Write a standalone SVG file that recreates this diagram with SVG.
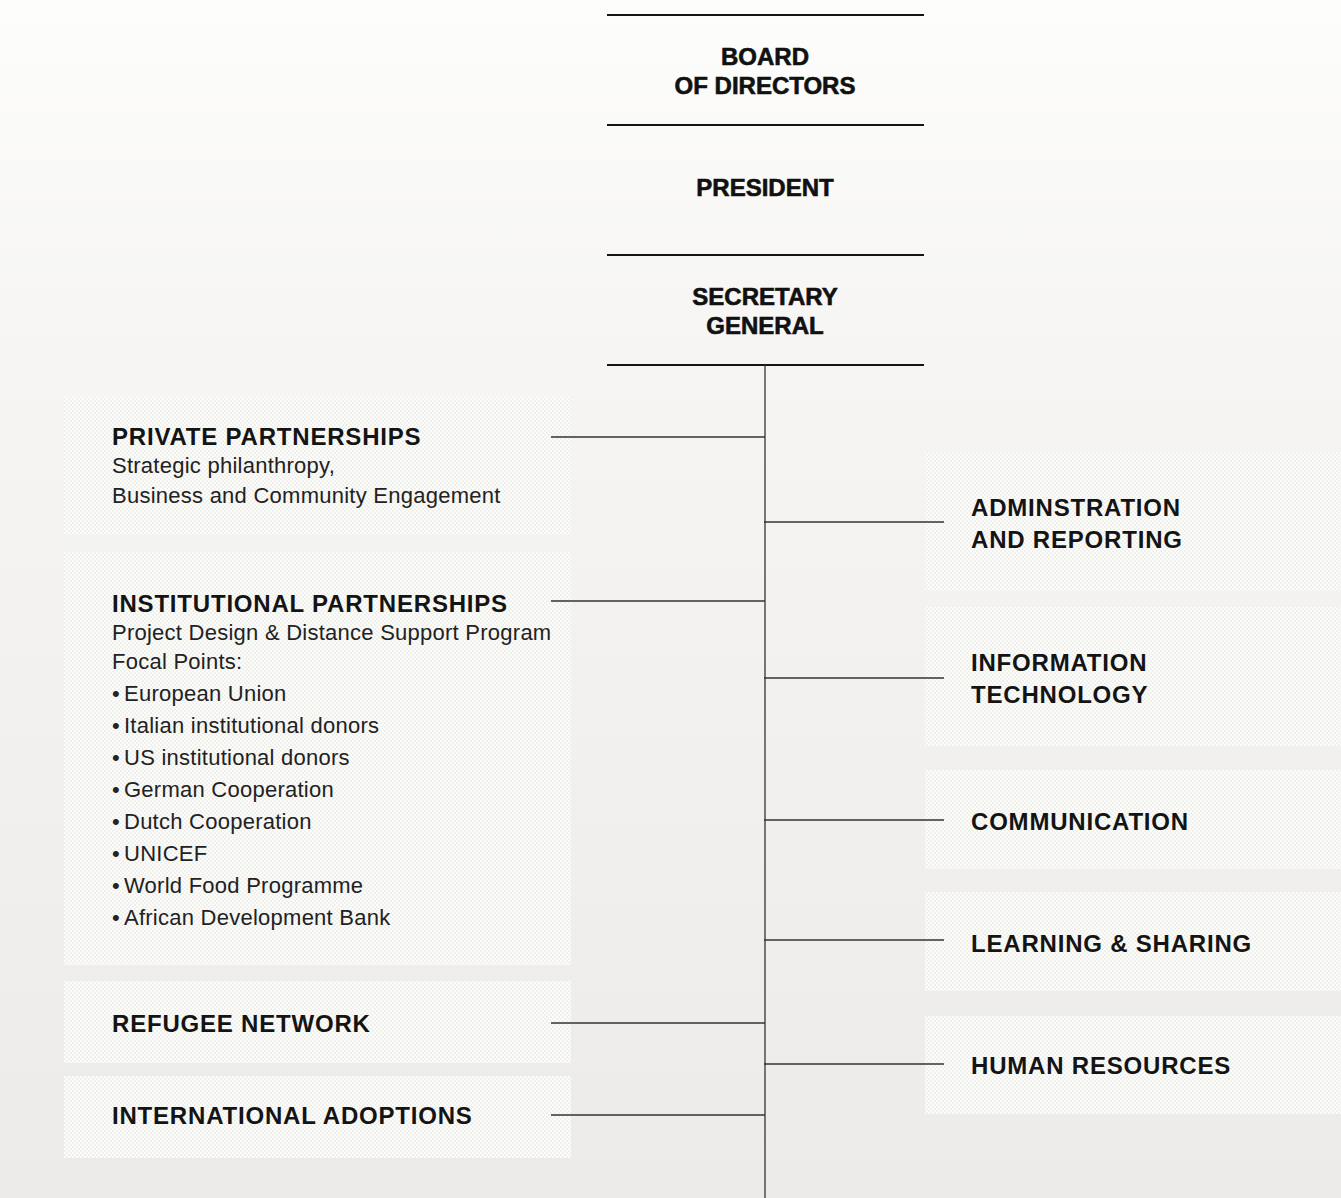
<svg xmlns="http://www.w3.org/2000/svg" width="1341" height="1198" viewBox="0 0 1341 1198">
  <style>
    .top { font-family: "Liberation Sans", Arial, sans-serif; font-weight: bold; font-size: 24px; fill: #111; stroke: #111; stroke-width: 0.6; text-anchor: middle; }
    .head { font-family: "Liberation Sans", Arial, sans-serif; font-weight: bold; font-size: 24px; letter-spacing: 0.8px; fill: #141414; }
    .sub { font-family: "Liberation Sans", Arial, sans-serif; font-weight: 400; font-size: 22px; letter-spacing: 0.25px; fill: #222; }
    .rule { stroke: #151515; stroke-width: 2; }
    .conn { stroke: #333; stroke-width: 1.3; fill: none; }
    .box { fill: url(#dots); }
  </style>
  <defs>
    <linearGradient id="bg" x1="0" y1="0" x2="0" y2="1">
      <stop offset="0" stop-color="#fdfdfc"/>
      <stop offset="0.3" stop-color="#f6f5f4"/>
      <stop offset="1" stop-color="#ecebe9"/>
    </linearGradient>
    <pattern id="dots" width="4" height="4" patternUnits="userSpaceOnUse">
      <rect width="4" height="4" fill="#ecebe8"/>
      <circle cx="1" cy="1" r="1.1" fill="#ffffff"/>
      <circle cx="3" cy="3" r="1.1" fill="#ffffff"/>
      <circle cx="3" cy="1" r="0.7" fill="#f9f9f8"/>
      <circle cx="1" cy="3" r="0.7" fill="#f9f9f8"/>
    </pattern>
  </defs>
  <rect width="1341" height="1198" fill="url(#bg)"/>

  <g id="board">
    <line class="rule" x1="607" y1="15" x2="924" y2="15"/>
    <text class="top" x="765" y="65">BOARD</text>
    <text class="top" x="765" y="94">OF DIRECTORS</text>
  </g>
  <g id="president">
    <line class="rule" x1="607" y1="125" x2="924" y2="125"/>
    <text class="top" x="765" y="196">PRESIDENT</text>
  </g>
  <g id="secretary-general">
    <line class="rule" x1="607" y1="255" x2="924" y2="255"/>
    <text class="top" x="765" y="305">SECRETARY</text>
    <text class="top" x="765" y="334">GENERAL</text>
    <line class="rule" x1="607" y1="365" x2="924" y2="365"/>
  </g>

  <g id="private-partnerships">
    <rect class="box" x="64" y="395" width="507" height="140"/>
    <text class="head" x="112" y="445">PRIVATE PARTNERSHIPS</text>
    <text class="sub" x="112" y="473">Strategic philanthropy,</text>
    <text class="sub" x="112" y="503">Business and Community Engagement</text>
  </g>
  <g id="institutional-partnerships">
    <rect class="box" x="64" y="552" width="507" height="413"/>
    <text class="head" x="112" y="612">INSTITUTIONAL PARTNERSHIPS</text>
    <text class="sub" x="112" y="640">Project Design &amp; Distance Support Program</text>
    <text class="sub" x="112" y="669">Focal Points:</text>
    <text class="sub" y="701"><tspan x="112">•</tspan><tspan x="124">European Union</tspan></text>
    <text class="sub" y="733"><tspan x="112">•</tspan><tspan x="124">Italian institutional donors</tspan></text>
    <text class="sub" y="765"><tspan x="112">•</tspan><tspan x="124">US institutional donors</tspan></text>
    <text class="sub" y="797"><tspan x="112">•</tspan><tspan x="124">German Cooperation</tspan></text>
    <text class="sub" y="829"><tspan x="112">•</tspan><tspan x="124">Dutch Cooperation</tspan></text>
    <text class="sub" y="861"><tspan x="112">•</tspan><tspan x="124">UNICEF</tspan></text>
    <text class="sub" y="893"><tspan x="112">•</tspan><tspan x="124">World Food Programme</tspan></text>
    <text class="sub" y="925"><tspan x="112">•</tspan><tspan x="124">African Development Bank</tspan></text>
  </g>
  <g id="refugee-network">
    <rect class="box" x="64" y="981" width="507" height="82"/>
    <text class="head" x="112" y="1032">REFUGEE NETWORK</text>
  </g>
  <g id="international-adoptions">
    <rect class="box" x="64" y="1076" width="507" height="82"/>
    <text class="head" x="112" y="1124">INTERNATIONAL ADOPTIONS</text>
  </g>

  <g id="administration">
    <rect class="box" x="925" y="452" width="416" height="139"/>
    <text class="head" x="971" y="516">ADMINSTRATION</text>
    <text class="head" x="971" y="548">AND REPORTING</text>
  </g>
  <g id="information-technology">
    <rect class="box" x="925" y="607" width="416" height="139"/>
    <text class="head" x="971" y="671">INFORMATION</text>
    <text class="head" x="971" y="703">TECHNOLOGY</text>
  </g>
  <g id="communication">
    <rect class="box" x="925" y="770" width="416" height="99"/>
    <text class="head" x="971" y="830">COMMUNICATION</text>
  </g>
  <g id="learning-sharing">
    <rect class="box" x="925" y="892" width="416" height="99"/>
    <text class="head" x="971" y="952">LEARNING &amp; SHARING</text>
  </g>
  <g id="human-resources">
    <rect class="box" x="925" y="1016" width="416" height="98"/>
    <text class="head" x="971" y="1074">HUMAN RESOURCES</text>
  </g>

  <g id="connectors">
    <line class="conn" x1="765" y1="365" x2="765" y2="1198"/>
    <line class="conn" x1="551" y1="437" x2="765" y2="437"/>
    <line class="conn" x1="551" y1="601" x2="765" y2="601"/>
    <line class="conn" x1="551" y1="1023" x2="765" y2="1023"/>
    <line class="conn" x1="551" y1="1115" x2="765" y2="1115"/>
    <line class="conn" x1="764" y1="522" x2="944" y2="522"/>
    <line class="conn" x1="764" y1="678" x2="944" y2="678"/>
    <line class="conn" x1="764" y1="820" x2="944" y2="820"/>
    <line class="conn" x1="764" y1="940" x2="944" y2="940"/>
    <line class="conn" x1="764" y1="1064" x2="944" y2="1064"/>
  </g>
</svg>
